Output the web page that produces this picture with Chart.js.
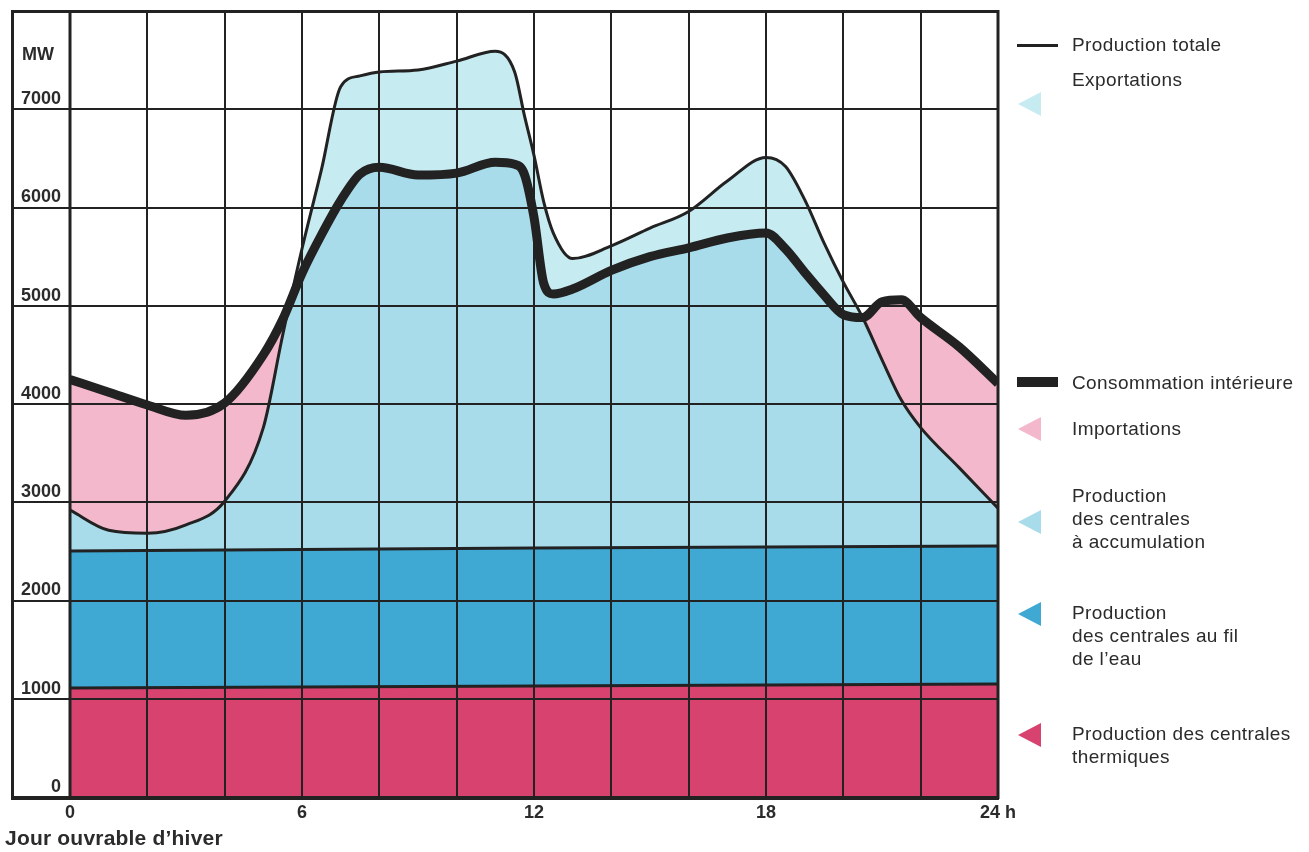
<!DOCTYPE html>
<html>
<head>
<meta charset="utf-8">
<script src="https://cdn.jsdelivr.net/npm/chart.js@4.4.1/dist/chart.umd.min.js"></script>
<style>
html,body{margin:0;padding:0;background:#fff;}
#wrap{position:relative;width:1309px;height:852px;overflow:hidden;font-family:"Liberation Sans",Arial,sans-serif;color:#2b2b2b;}
#c{position:absolute;left:0;top:0;}
.txt{position:absolute;left:1072px;font-size:19px;line-height:23px;letter-spacing:0.4px;white-space:nowrap;}
.tri{position:absolute;left:1018px;width:0;height:0;border-top:12px solid transparent;border-bottom:12px solid transparent;border-right-width:23px;border-right-style:solid;}
.bar{position:absolute;left:1017px;width:41px;background:#222;}
#xtitle{position:absolute;left:5px;top:826px;font-size:21px;letter-spacing:0.2px;font-weight:bold;white-space:nowrap;}
</style>
</head>
<body>
<div id="wrap">
<canvas id="c" width="1309" height="852"></canvas>
<div id="legend"></div>
<div id="xtitle"></div>
</div>
<script>
// ---- data ----
const hours = [0,1,2,3,4,5,5.5,6,6.5,7,7.5,8,9,10,11,11.5,11.75,12,12.25,12.5,13,14,15,16,17,18,18.5,19,19.5,20,20.5,21,21.5,22,23,24];
const productionTotale = [2920,2715,2685,2770,3010,3760,4700,5580,6380,7230,7340,7380,7400,7490,7590,7380,6940,6530,6060,5740,5480,5610,5790,5960,6270,6510,6420,6080,5640,5240,4880,4450,4040,3760,3350,2940];
const consommation = [4250,4120,3990,3885,4010,4500,4860,5330,5720,6070,6340,6410,6330,6350,6460,6440,6340,5900,5230,5120,5170,5360,5500,5590,5690,5740,5580,5340,5110,4910,4880,5040,5060,4880,4580,4210];
const flatHours = [0,12,24];
const filEauTop = [2505,2535,2555];
const thermiqueTop = [1110,1130,1150];
const yTicks = [0,1000,2000,3000,4000,5000,6000,7000];
const xLabelHours = [0,6,12,18,24];
const unitLabel = 'MW';
const xUnit = ' h';
const xTitle = 'Jour ouvrable d\u2019hiver';

const legendItems = [
  {kind:'line', label:['Production totale'], top:33, mark:44},
  {kind:'tri', color:'#c6ebf1', label:['Exportations'], top:68, mark:92},
  {kind:'bar', label:['Consommation intérieure'], top:371, mark:377},
  {kind:'tri', color:'#f4b8cd', label:['Importations'], top:417, mark:417},
  {kind:'tri', color:'#a9dcea', label:['Production','des centrales','à accumulation'], top:484, mark:510},
  {kind:'tri', color:'#3fa9d3', label:['Production','des centrales au fil','de l\u2019eau'], top:601, mark:602},
  {kind:'tri', color:'#d8426f', label:['Production des centrales','thermiques'], top:722, mark:723}
];

const C = {
  ink:'#222222', text:'#2b2b2b',
  thermique:'#d8426f', filEau:'#3fa9d3', accumulation:'#a9dcea',
  export:'#c6ebf1', import:'#f4b8cd'
};

function pts(xs, ys){ return xs.map((x,i)=>({x:x, y:ys[i]})); }
function noPad(s){ s.paddingTop = 0; s.paddingBottom = 0; s.paddingLeft = 0; s.paddingRight = 0; }

const framePlugin = {
  id:'frame',
  afterDraw(chart){
    const {ctx, chartArea:a, scales:{y}} = chart;
    ctx.save();
    ctx.strokeStyle = C.ink;
    ctx.lineWidth = 2;
    yTicks.forEach(v=>{
      const py = Math.round(y.getPixelForValue(v));
      ctx.beginPath(); ctx.moveTo(12, py); ctx.lineTo(a.left, py); ctx.stroke();
    });
    ctx.lineWidth = 3;
    ctx.strokeRect(12.5, a.top+0.5, a.right-12.5, a.bottom-a.top);
    ctx.beginPath(); ctx.moveTo(a.left, a.top); ctx.lineTo(a.left, a.bottom); ctx.stroke();
    ctx.lineWidth = 4;
    ctx.beginPath(); ctx.moveTo(11, a.bottom+1); ctx.lineTo(a.right+1, a.bottom+1); ctx.stroke();
    ctx.fillStyle = C.text;
    ctx.font = 'bold 18px "Liberation Sans", Arial, sans-serif';
    ctx.textAlign = 'center'; ctx.textBaseline = 'middle';
    ctx.fillText(unitLabel, 38, y.getPixelForValue(7500) - 5);
    ctx.restore();
  }
};

const chart = new Chart(document.getElementById('c'), {
  type:'line',
  data:{
    datasets:[
      {label:'Consommation intérieure', data:pts(hours, consommation), borderColor:C.ink, borderWidth:9,
       cubicInterpolationMode:'monotone', pointRadius:0, borderJoinStyle:'round',
       fill:{target:1, above:C.import, below:C.export}},
      {label:'Production totale', data:pts(hours, productionTotale), borderColor:C.ink, borderWidth:3,
       cubicInterpolationMode:'monotone', pointRadius:0,
       fill:{target:2, above:C.accumulation, below:C.accumulation}},
      {label:'Production des centrales au fil de l\u2019eau', data:pts(flatHours, filEauTop), borderColor:C.ink, borderWidth:3,
       tension:0, pointRadius:0, fill:{target:3, above:C.filEau, below:C.filEau}},
      {label:'Production des centrales thermiques', data:pts(flatHours, thermiqueTop), borderColor:C.ink, borderWidth:3,
       tension:0, pointRadius:0, fill:{target:'origin', above:C.thermique, below:C.thermique}}
    ]
  },
  options:{
    responsive:false, animation:false, devicePixelRatio:1,
    layout:{padding:{left:12, right:311, top:11, bottom:0}},
    plugins:{legend:{display:false}, tooltip:{enabled:false}, filler:{drawTime:'beforeDraw'}},
    scales:{
      x:{type:'linear', min:0, max:24,
        afterFit(s){ s.height = 55; noPad(s); },
        grid:{color:C.ink, lineWidth:2, drawTicks:false},
        border:{display:false},
        ticks:{stepSize:2, autoSkip:false, maxRotation:0, padding:5, color:C.text,
          font:{family:'"Liberation Sans", Arial, sans-serif', size:18, weight:'bold'},
          callback:(v)=> xLabelHours.includes(v) ? (v===24 ? v+xUnit : String(v)) : ''}
      },
      y:{type:'linear', min:0, max:8000,
        afterFit(s){ s.width = 58; noPad(s); },
        grid:{color:C.ink, lineWidth:2, drawTicks:false},
        border:{display:false},
        ticks:{stepSize:1000, padding:9, labelOffset:-10, color:C.text,
          font:{family:'"Liberation Sans", Arial, sans-serif', size:18, weight:'bold'},
          callback:(v)=> yTicks.includes(v) ? String(v) : ''}
      }
    }
  },
  plugins:[framePlugin]
});

// HTML legend
const lg = document.getElementById('legend');
legendItems.forEach(it=>{
  if(it.kind==='line'){ const d=document.createElement('div'); d.className='bar'; d.style.top=it.mark+'px'; d.style.height='3px'; lg.appendChild(d); }
  else if(it.kind==='bar'){ const d=document.createElement('div'); d.className='bar'; d.style.top=it.mark+'px'; d.style.height='10px'; lg.appendChild(d); }
  else { const d=document.createElement('div'); d.className='tri'; d.style.top=it.mark+'px'; d.style.borderRightColor=it.color; lg.appendChild(d); }
  const t=document.createElement('div'); t.className='txt'; t.style.top=it.top+'px';
  t.innerHTML = it.label.map(s=>s.replace(/&/g,'&amp;')).join('<br>');
  lg.appendChild(t);
});
document.getElementById('xtitle').textContent = xTitle;
</script>
</body>
</html>
